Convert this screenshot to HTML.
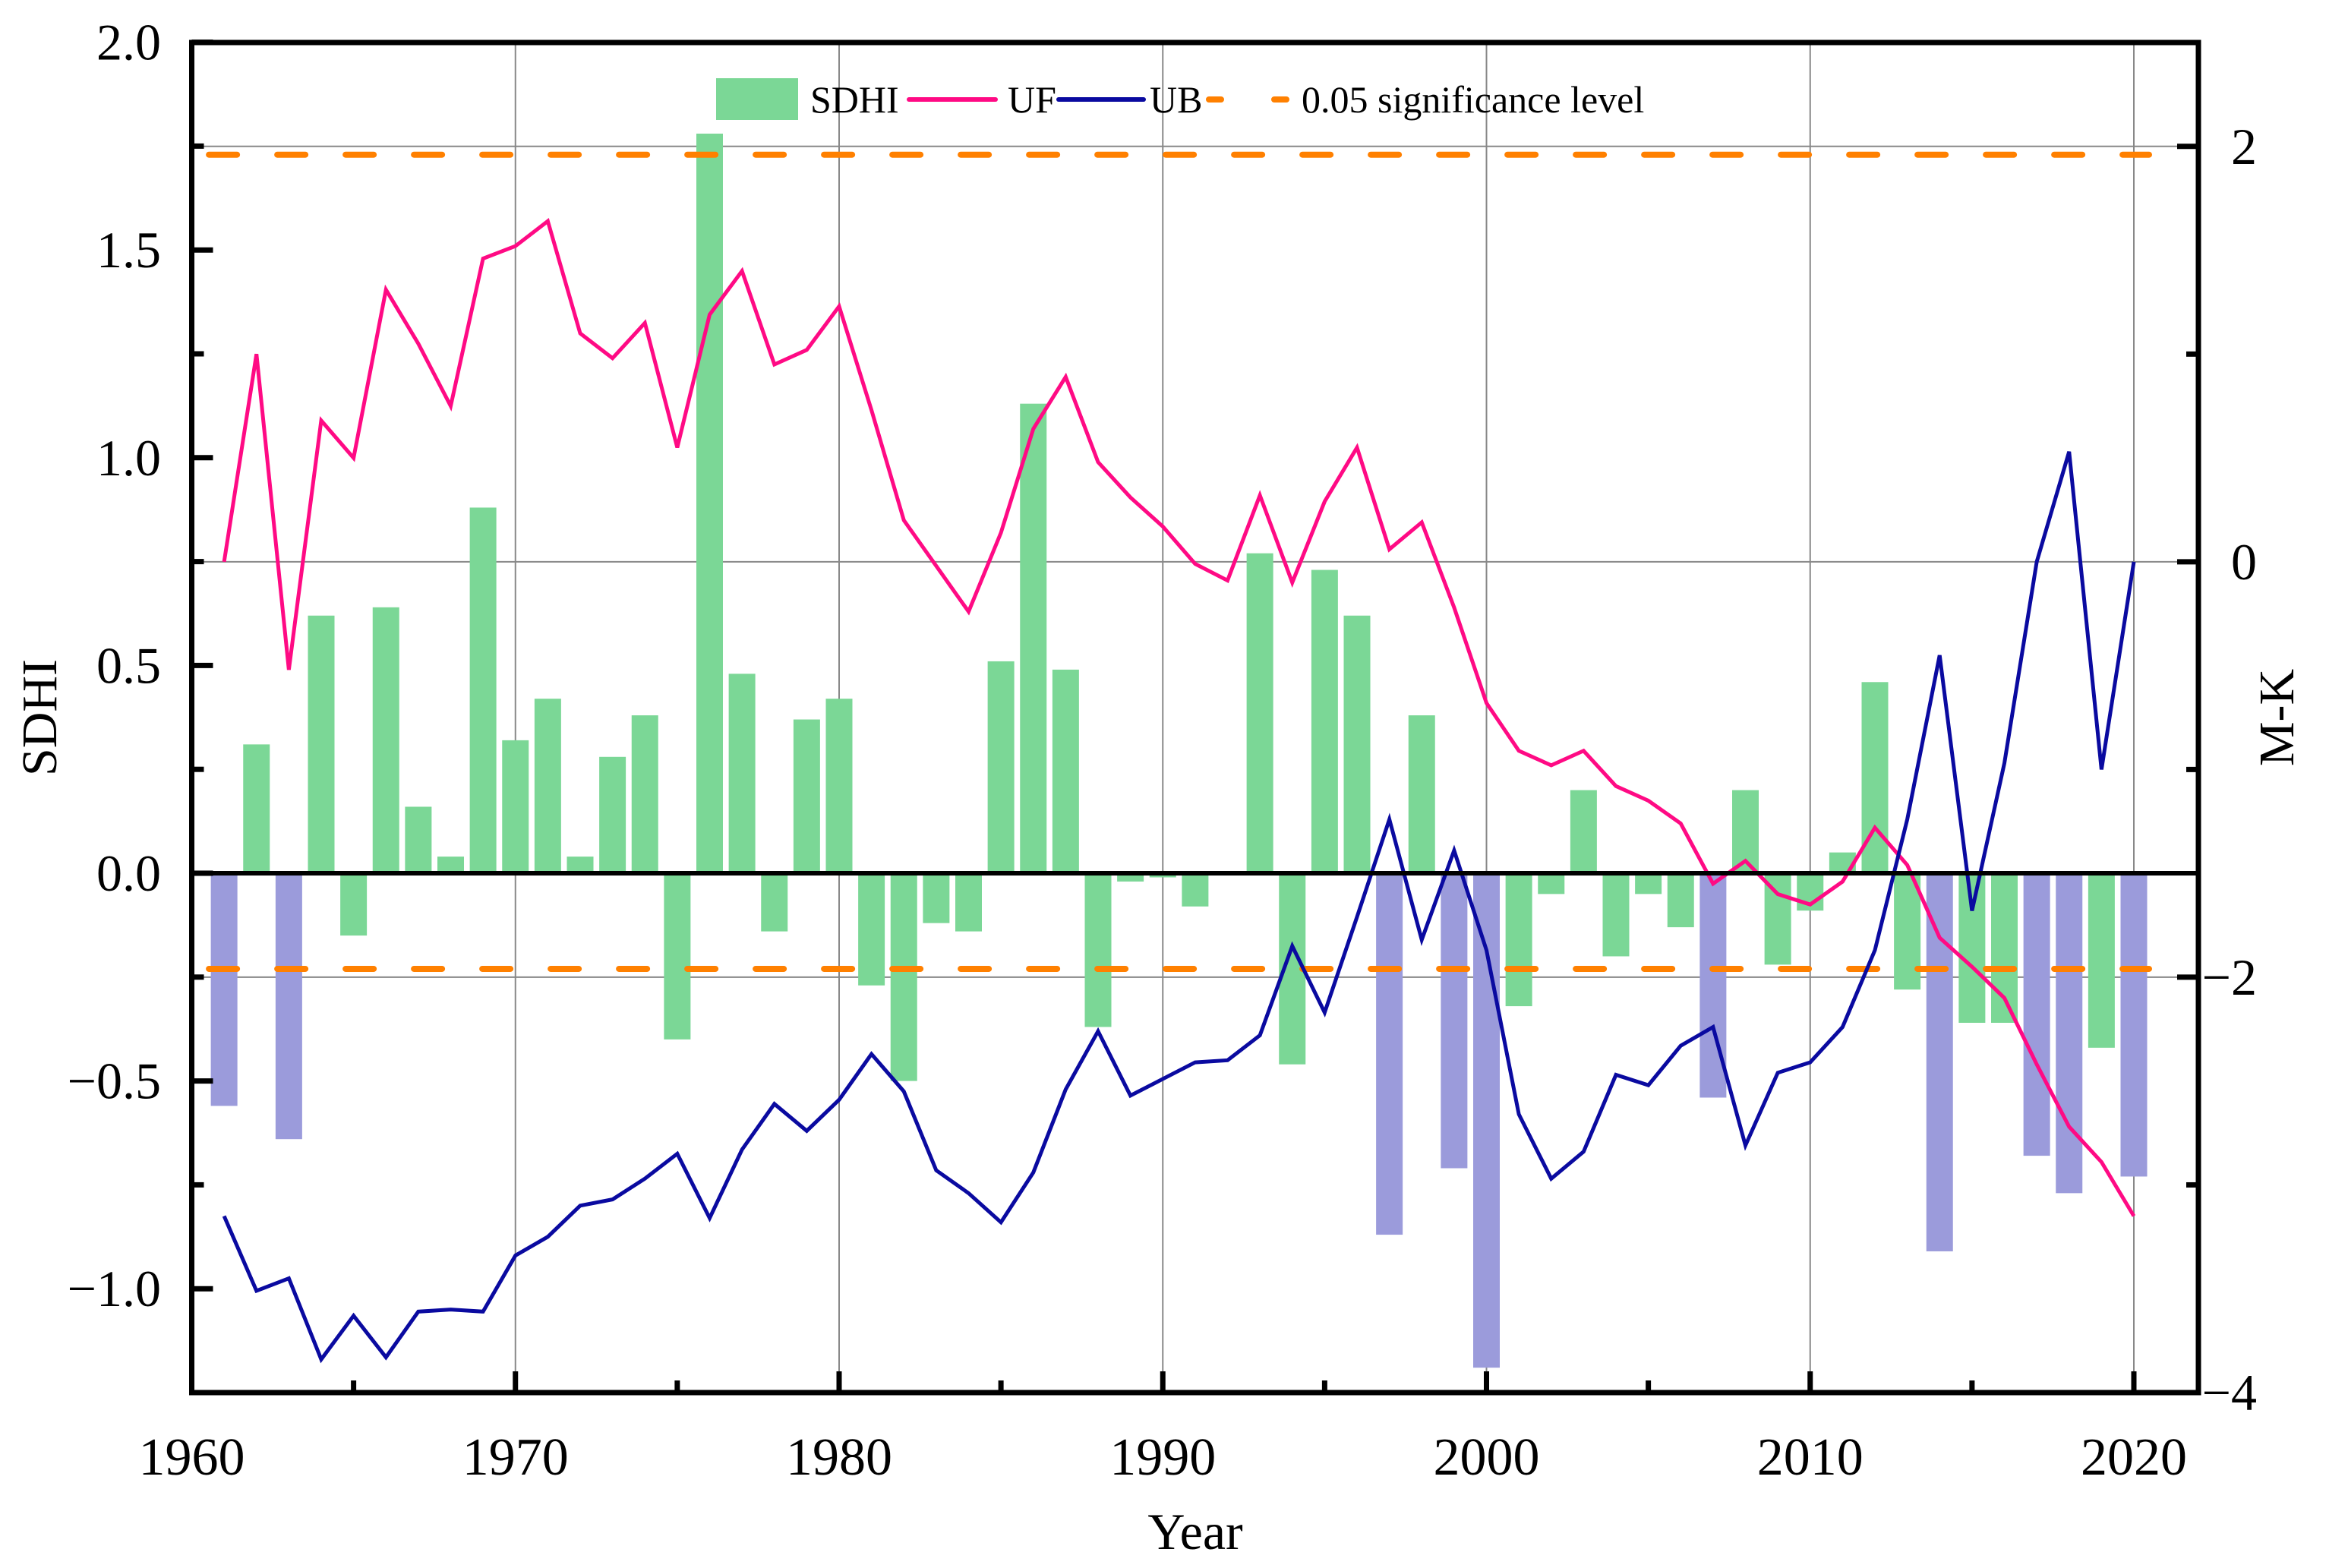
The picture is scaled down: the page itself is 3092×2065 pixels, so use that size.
<!DOCTYPE html>
<html><head><meta charset="utf-8"><style>
html,body{margin:0;padding:0;background:#fff;}
svg{display:block;font-family:"Liberation Serif",serif;}
</style></head><body>
<svg id="chart" width="3092" height="2065" viewBox="0 0 3092 2065" xmlns="http://www.w3.org/2000/svg">
<g id="grid"></g>
<g id="bars"></g>
<g id="sig"></g>
<g id="lines"></g>
<g id="axes"></g>
<g id="legend">
  <rect x="943" y="103" width="108" height="55" fill="#7bd796"/>
  <text x="1067" y="148" font-size="50">SDHI</text>
  <line x1="1197" y1="131" x2="1311" y2="131" stroke="#ff0a84" stroke-width="6" stroke-linecap="round"/>
  <text x="1327" y="148" font-size="50">UF</text>
  <line x1="1394" y1="131" x2="1506" y2="131" stroke="#0a0aa0" stroke-width="6" stroke-linecap="round"/>
  <text x="1514" y="148" font-size="50">UB</text>
  <line x1="1592" y1="131" x2="1700" y2="131" stroke="#ff8000" stroke-width="8" stroke-linecap="round" stroke-dasharray="16 70"/>
  <text x="1714" y="148" font-size="50">0.05 significance level</text>
</g>
<text transform="translate(74,945) rotate(-90)" text-anchor="middle" font-size="66">SDHI</text>
<text transform="translate(3020,945) rotate(-90)" text-anchor="middle" font-size="66">M-K</text>
<text x="1574" y="2040" text-anchor="middle" font-size="68">Year</text>
</svg>
<script>
const years = [1961,1962,1963,1964,1965,1966,1967,1968,1969,1970,1971,1972,1973,1974,1975,1976,1977,1978,1979,1980,1981,1982,1983,1984,1985,1986,1987,1988,1989,1990,1991,1992,1993,1994,1995,1996,1997,1998,1999,2000,2001,2002,2003,2004,2005,2006,2007,2008,2009,2010,2011,2012,2013,2014,2015,2016,2017,2018,2019,2020];
const sdhi = [-0.56,0.31,-0.64,0.62,-0.15,0.64,0.16,0.04,0.88,0.32,0.42,0.04,0.28,0.38,-0.40,1.78,0.48,-0.14,0.37,0.42,-0.27,-0.50,-0.12,-0.14,0.51,1.13,0.49,-0.37,-0.02,-0.01,-0.08,0,0.77,-0.46,0.73,0.62,-0.87,0.38,-0.71,-1.19,-0.32,-0.05,0.20,-0.20,-0.05,-0.13,-0.54,0.20,-0.22,-0.09,0.05,0.46,-0.28,-0.91,-0.36,-0.36,-0.68,-0.77,-0.42,-0.73];
const droughtYears = [1961,1963,1997,1999,2000,2007,2014,2017,2018,2020];
const uf = [0,1.00,-0.52,0.68,0.50,1.31,1.05,0.75,1.46,1.52,1.64,1.10,0.98,1.15,0.55,1.19,1.40,0.95,1.02,1.23,0.73,0.20,-0.02,-0.24,0.14,0.64,0.89,0.48,0.31,0.17,-0.01,-0.09,0.32,-0.10,0.29,0.55,0.06,0.19,-0.22,-0.68,-0.91,-0.98,-0.91,-1.08,-1.15,-1.26,-1.55,-1.44,-1.60,-1.65,-1.54,-1.28,-1.46,-1.81,-1.95,-2.10,-2.42,-2.72,-2.89,-3.15];
const ub = [-3.15,-3.51,-3.45,-3.84,-3.63,-3.83,-3.61,-3.60,-3.61,-3.34,-3.25,-3.10,-3.07,-2.97,-2.85,-3.16,-2.83,-2.61,-2.74,-2.59,-2.37,-2.55,-2.93,-3.04,-3.18,-2.94,-2.54,-2.26,-2.57,-2.49,-2.41,-2.40,-2.28,-1.85,-2.17,-1.71,-1.24,-1.82,-1.39,-1.87,-2.66,-2.97,-2.84,-2.47,-2.52,-2.33,-2.24,-2.81,-2.46,-2.41,-2.24,-1.87,-1.24,-0.45,-1.68,-0.97,0,0.53,-1.00,0];
const sigLevel = [1.96,-1.96];
const xTicks = [1960,1970,1980,1990,2000,2010,2020];
const yLeftTicks = [2.0,1.5,1.0,0.5,0.0,-0.5,-1.0];
const yLeftLabels = ["2.0","1.5","1.0","0.5","0.0","\u22120.5","\u22121.0"];
const yRightTicks = [2,0,-2,-4];
const yRightLabels = ["2","0","\u22122","\u22124"];

const L=252.5,R=2895,T=56,B=1834;
const X = y => L + (y-1960)*(2810-L)/60;
const YL = v => 1150 - v*547.2;
const YR = v => T + (2.5 - v)*(B-T)/6.5;
const NS="http://www.w3.org/2000/svg";
function mk(tag,parent,attrs){const e=document.createElementNS(NS,tag);for(const k in attrs)e.setAttribute(k,attrs[k]);parent.appendChild(e);return e;}

const grid=document.getElementById('grid');
xTicks.forEach(t=>{const e=mk('line',grid,{x1:X(t),x2:X(t),y1:T,y2:B,stroke:'#888','stroke-width':2});

});
yRightTicks.forEach(t=>{const e=mk('line',grid,{x1:L,x2:R,y1:YR(t),y2:YR(t),stroke:'#888','stroke-width':2});

});

const bars=document.getElementById('bars');
const bw=35;
years.forEach((yr,i)=>{const v=sdhi[i];const y0=YL(0),y1=YL(v);
const purple=droughtYears.includes(yr);
const e=mk('rect',bars,{x:X(yr)-bw/2,y:Math.min(y0,y1),width:bw,height:Math.abs(y1-y0),fill:purple?'#9b9bdb':'#7bd796'});

});

const sig=document.getElementById('sig');
sigLevel.forEach(s=>{const e=mk('line',sig,{x1:X(1961)-20,x2:X(2020)+20,y1:YR(s),y2:YR(s),stroke:'#ff8000','stroke-width':8,'stroke-linecap':'round','stroke-dasharray':'37 53'});

});

const axes=document.getElementById('axes');
const z=mk('line',axes,{x1:L,x2:R,y1:YL(0),y2:YL(0),stroke:'#000','stroke-width':6});



const lines=document.getElementById('lines');
function poly(arr,color,name){const p=mk('polyline',lines,{points:arr.map((v,i)=>X(years[i])+','+YR(v)).join(' '),fill:'none',stroke:color,'stroke-width':5,'stroke-linejoin':'miter'});

}
poly(uf,'#ff0a84','uf-line');
poly(ub,'#0a0aa0','ub-line');

const fr=mk('rect',axes,{x:L,y:T,width:R-L,height:B-T,fill:'none',stroke:'#000','stroke-width':7});


for(let y=1960;y<=2020;y+=5){const major=y%10===0;const e=mk('line',axes,{x1:X(y),x2:X(y),y1:B,y2:B-(major?28:16),stroke:'#000','stroke-width':7});

}
for(let v=2.0;v>=-1.25;v-=0.25){const major=Math.abs(v*2-Math.round(v*2))<1e-6;const e=mk('line',axes,{x1:L,x2:L+(major?28:16),y1:YL(v),y2:YL(v),stroke:'#000','stroke-width':7});

}
for(let v=2;v>=-4;v-=1){const major=v%2===0;const e=mk('line',axes,{x1:R,x2:R-(major?28:16),y1:YR(v),y2:YR(v),stroke:'#000','stroke-width':7});

}
xTicks.forEach(t=>{const e=mk('text',axes,{x:X(t),y:1942,'text-anchor':'middle','font-size':70});e.textContent=t;

});
yLeftTicks.forEach((t,i)=>{const e=mk('text',axes,{x:212,y:YL(t)+23,'text-anchor':'end','font-size':68});e.textContent=yLeftLabels[i];

});
yRightTicks.forEach((t,i)=>{const e=mk('text',axes,{x:2972,y:YR(t)+23,'text-anchor':'end','font-size':68});e.textContent=yRightLabels[i];

});
</script>
</body></html>
